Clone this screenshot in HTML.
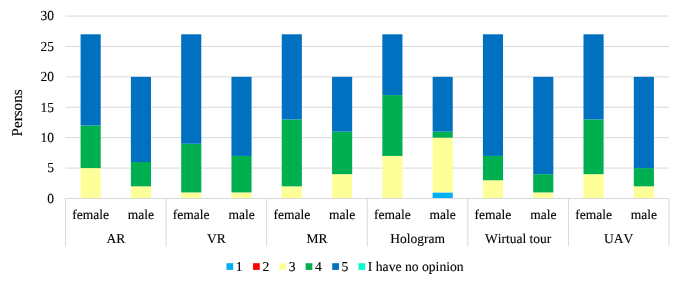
<!DOCTYPE html>
<html><head><meta charset="utf-8"><title>Chart</title>
<style>
html,body{margin:0;padding:0;background:#fff}
body{width:685px;height:287px;overflow:hidden;position:relative;font-family:"Liberation Serif",serif}
svg{display:block;position:absolute;left:0;top:0}
.labels{position:absolute;left:0;top:0;width:685px;height:287px;filter:grayscale(1);font:13.5px/0 "Liberation Serif",serif;color:#000;text-rendering:geometricPrecision;font-kerning:none;font-variant-ligatures:none;-webkit-text-stroke:0.12px #000}
.l{position:absolute;left:0;top:0;height:0;line-height:0;white-space:nowrap;transform-origin:0 0}
.l span{position:relative;top:-4px}
.p{font-size:15.1px}
.g{font-size:13.65px}
</style>
</head><body>
<svg width="685" height="287" viewBox="0 0 685 287">
<rect width="685" height="287" fill="#fff"/>
<g stroke="#d9d9d9" stroke-width="1">
<line x1="65.50" x2="669.00" y1="168.09" y2="168.09"/>
<line x1="65.50" x2="669.00" y1="137.68" y2="137.68"/>
<line x1="65.50" x2="669.00" y1="107.28" y2="107.28"/>
<line x1="65.50" x2="669.00" y1="76.87" y2="76.87"/>
<line x1="65.50" x2="669.00" y1="46.46" y2="46.46"/>
<line x1="65.50" x2="669.00" y1="16.05" y2="16.05"/>
</g>
<rect x="80.59" y="168.09" width="20.12" height="30.41" fill="#ffff99"/>
<rect x="80.59" y="125.52" width="20.12" height="42.57" fill="#00b050"/>
<rect x="80.59" y="34.30" width="20.12" height="91.22" fill="#0070c0"/>
<rect x="130.88" y="186.34" width="20.12" height="12.16" fill="#ffff99"/>
<rect x="130.88" y="162.01" width="20.12" height="24.33" fill="#00b050"/>
<rect x="130.88" y="76.87" width="20.12" height="85.14" fill="#0070c0"/>
<rect x="181.17" y="192.42" width="20.12" height="6.08" fill="#ffff99"/>
<rect x="181.17" y="143.77" width="20.12" height="48.65" fill="#00b050"/>
<rect x="181.17" y="34.30" width="20.12" height="109.47" fill="#0070c0"/>
<rect x="231.46" y="192.42" width="20.12" height="6.08" fill="#ffff99"/>
<rect x="231.46" y="155.93" width="20.12" height="36.49" fill="#00b050"/>
<rect x="231.46" y="76.87" width="20.12" height="79.06" fill="#0070c0"/>
<rect x="281.75" y="186.34" width="20.12" height="12.16" fill="#ffff99"/>
<rect x="281.75" y="119.44" width="20.12" height="66.90" fill="#00b050"/>
<rect x="281.75" y="34.30" width="20.12" height="85.14" fill="#0070c0"/>
<rect x="332.05" y="174.17" width="20.12" height="24.33" fill="#ffff99"/>
<rect x="332.05" y="131.60" width="20.12" height="42.57" fill="#00b050"/>
<rect x="332.05" y="76.87" width="20.12" height="54.73" fill="#0070c0"/>
<rect x="382.34" y="155.93" width="20.12" height="42.57" fill="#ffff99"/>
<rect x="382.34" y="95.11" width="20.12" height="60.82" fill="#00b050"/>
<rect x="382.34" y="34.30" width="20.12" height="60.82" fill="#0070c0"/>
<rect x="432.63" y="192.42" width="20.12" height="6.08" fill="#00b0f0"/>
<rect x="432.63" y="137.68" width="20.12" height="54.73" fill="#ffff99"/>
<rect x="432.63" y="131.60" width="20.12" height="6.08" fill="#00b050"/>
<rect x="432.63" y="76.87" width="20.12" height="54.73" fill="#0070c0"/>
<rect x="482.92" y="180.25" width="20.12" height="18.24" fill="#ffff99"/>
<rect x="482.92" y="155.93" width="20.12" height="24.33" fill="#00b050"/>
<rect x="482.92" y="34.30" width="20.12" height="121.63" fill="#0070c0"/>
<rect x="533.21" y="192.42" width="20.12" height="6.08" fill="#ffff99"/>
<rect x="533.21" y="174.17" width="20.12" height="18.24" fill="#00b050"/>
<rect x="533.21" y="76.87" width="20.12" height="97.31" fill="#0070c0"/>
<rect x="583.50" y="174.17" width="20.12" height="24.33" fill="#ffff99"/>
<rect x="583.50" y="119.44" width="20.12" height="54.73" fill="#00b050"/>
<rect x="583.50" y="34.30" width="20.12" height="85.14" fill="#0070c0"/>
<rect x="633.80" y="186.34" width="20.12" height="12.16" fill="#ffff99"/>
<rect x="633.80" y="168.09" width="20.12" height="18.24" fill="#00b050"/>
<rect x="633.80" y="76.87" width="20.12" height="91.22" fill="#0070c0"/>
<g stroke="#d9d9d9" stroke-width="1">
<line x1="65.50" x2="669.00" y1="198.50" y2="198.50"/>
<line x1="65.50" x2="65.50" y1="198.50" y2="246.70"/>
<line x1="166.08" x2="166.08" y1="198.50" y2="246.70"/>
<line x1="266.67" x2="266.67" y1="198.50" y2="246.70"/>
<line x1="367.25" x2="367.25" y1="198.50" y2="246.70"/>
<line x1="467.83" x2="467.83" y1="198.50" y2="246.70"/>
<line x1="568.42" x2="568.42" y1="198.50" y2="246.70"/>
<line x1="669.00" x2="669.00" y1="198.50" y2="246.70"/>
</g>
<rect x="226.45" y="263.20" width="6.7" height="6.7" fill="#00b0f0"/>
<rect x="253.05" y="263.20" width="6.7" height="6.7" fill="#ff0000"/>
<rect x="279.35" y="263.20" width="6.7" height="6.7" fill="#ffff99"/>
<rect x="305.65" y="263.20" width="6.7" height="6.7" fill="#00b050"/>
<rect x="332.25" y="263.20" width="6.7" height="6.7" fill="#0070c0"/>
<rect x="358.45" y="263.20" width="6.7" height="6.7" fill="#00ffcc"/>
</svg>
<div class="labels">
<div class="l" style="transform:translate(54.00px,202.80px) scale(1,1.02) translate(-100%,0)"><span>0</span></div>
<div class="l" style="transform:translate(54.00px,172.39px) scale(1,1.02) translate(-100%,0)"><span>5</span></div>
<div class="l" style="transform:translate(54.00px,141.98px) scale(1,1.02) translate(-100%,0)"><span>10</span></div>
<div class="l" style="transform:translate(54.00px,111.58px) scale(1,1.02) translate(-100%,0)"><span>15</span></div>
<div class="l" style="transform:translate(54.00px,81.17px) scale(1,1.02) translate(-100%,0)"><span>20</span></div>
<div class="l" style="transform:translate(54.00px,50.76px) scale(1,1.02) translate(-100%,0)"><span>25</span></div>
<div class="l" style="transform:translate(54.00px,20.35px) scale(1,1.02) translate(-100%,0)"><span>30</span></div>
<div class="l" style="transform:translate(90.65px,219.20px) translate(-50%,0)"><span>female</span></div>
<div class="l" style="transform:translate(140.94px,219.20px) translate(-50%,0)"><span>male</span></div>
<div class="l" style="transform:translate(191.23px,219.20px) translate(-50%,0)"><span>female</span></div>
<div class="l" style="transform:translate(241.52px,219.20px) translate(-50%,0)"><span>male</span></div>
<div class="l" style="transform:translate(291.81px,219.20px) translate(-50%,0)"><span>female</span></div>
<div class="l" style="transform:translate(342.10px,219.20px) translate(-50%,0)"><span>male</span></div>
<div class="l" style="transform:translate(392.40px,219.20px) translate(-50%,0)"><span>female</span></div>
<div class="l" style="transform:translate(442.69px,219.20px) translate(-50%,0)"><span>male</span></div>
<div class="l" style="transform:translate(492.98px,219.20px) translate(-50%,0)"><span>female</span></div>
<div class="l" style="transform:translate(543.27px,219.20px) translate(-50%,0)"><span>male</span></div>
<div class="l" style="transform:translate(593.56px,219.20px) translate(-50%,0)"><span>female</span></div>
<div class="l" style="transform:translate(643.85px,219.20px) translate(-50%,0)"><span>male</span></div>
<div class="l" style="transform:translate(115.79px,243.30px) translate(-50%,0)"><span>AR</span></div>
<div class="l" style="transform:translate(216.38px,243.30px) translate(-50%,0)"><span>VR</span></div>
<div class="l" style="transform:translate(316.96px,243.30px) translate(-50%,0)"><span>MR</span></div>
<div class="l" style="transform:translate(417.54px,243.30px) translate(-50%,0)"><span>Hologram</span></div>
<div class="l" style="transform:translate(518.12px,243.30px) translate(-50%,0)"><span>Wirtual tour</span></div>
<div class="l" style="transform:translate(618.71px,243.30px) translate(-50%,0)"><span>UAV</span></div>
<div class="l p" style="transform:translate(21.8px,112.9px) rotate(-90deg) translate(-50%,0)"><span>Persons</span></div>
<div class="l g" style="transform:translate(235.80px,270.50px)"><span>1</span></div>
<div class="l g" style="transform:translate(262.40px,270.50px)"><span>2</span></div>
<div class="l g" style="transform:translate(288.70px,270.50px)"><span>3</span></div>
<div class="l g" style="transform:translate(315.00px,270.50px)"><span>4</span></div>
<div class="l g" style="transform:translate(341.60px,270.50px)"><span>5</span></div>
<div class="l g" style="transform:translate(367.80px,270.50px)"><span>I have no opinion</span></div>
</div>
</body></html>
